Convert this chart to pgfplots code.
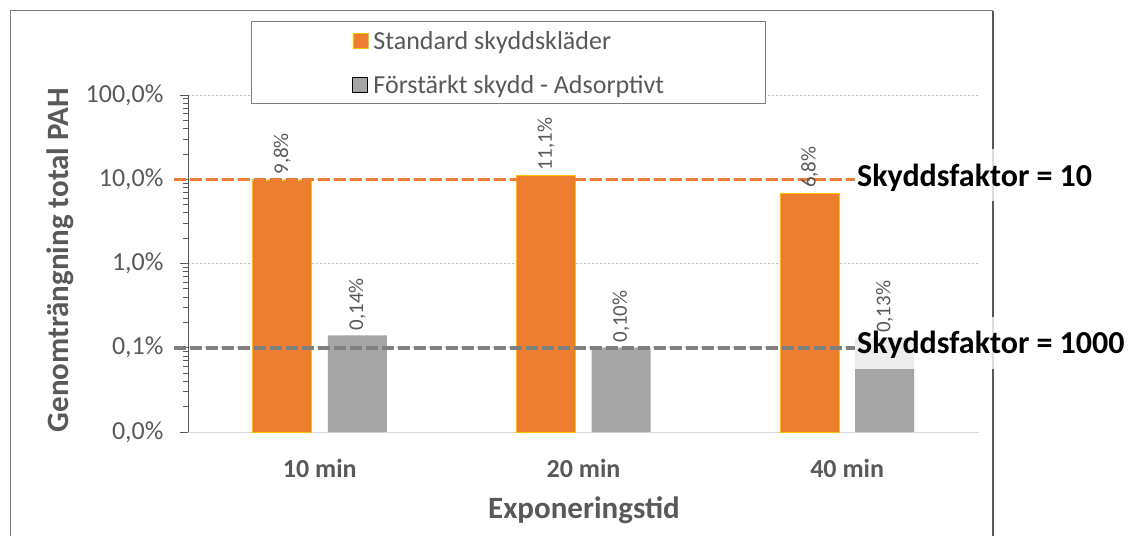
\documentclass[border=0pt]{standalone}
\usepackage{pgfplots}
\pgfplotsset{compat=1.18}
\usepackage{fontspec}
\setmainfont{Carlito}
\definecolor{txt}{HTML}{595959}
\definecolor{orng}{HTML}{ED7D31}
\definecolor{orngedge}{HTML}{FFC000}
\definecolor{gbar}{HTML}{A5A5A5}
\definecolor{gline}{HTML}{7F7F7F}
\definecolor{gridc}{HTML}{BFBFBF}
\definecolor{xaxisc}{HTML}{D9D9D9}
\begin{document}
\begin{tikzpicture}
\path[use as bounding box] (0bp,0bp) rectangle (1136bp,-536bp);
\draw[color=gline, line width=1.2bp] (10.5bp,-536bp) -- (10.5bp,-10.5bp) -- (993bp,-10.5bp);
\draw[color=txt, line width=1.4bp] (993bp,-10.5bp) -- (993bp,-536bp);
\begin{axis}[
  at={(188bp,-432bp)}, anchor=south west,
  scale only axis, width=791bp, height=337bp,
  ymode=log, ymin=0.01, ymax=100, log origin=infty,
  xmin=-0.5, xmax=2.5,
  clip=false,
  ybar, bar width=59bp,
  axis x line*=bottom, axis y line*=left,
  x axis line style={draw=xaxisc, line width=1bp},
  y axis line style={draw=txt, line width=1bp},
  xtick={0,1,2}, xticklabels={10 min,20 min,40 min},
  xtick style={draw=none},
  xticklabel style={font=\fontsize{26bp}{30bp}\selectfont\bfseries, text=txt, anchor=center, yshift=-28bp},
  ytick={0.01,0.1,1,10,100},
  yticklabels={{0,0\%},{0,1\%},{1,0\%},{10,0\%},{100,0\%}},
  minor ytick={0.02,0.03,0.04,0.05,0.06,0.07,0.08,0.09,0.2,0.3,0.4,0.5,0.6,0.7,0.8,0.9,2,3,4,5,6,7,8,9,20,30,40,50,60,70,80,90},
  ytick pos=left,
  tick align=outside,
  major tick length=8bp, minor tick length=5bp,
  every tick/.style={txt, line width=0.8bp},
  yticklabel style={font=\fontsize{26bp}{30bp}\selectfont, text=txt, anchor=east, xshift=-13bp},
  ymajorgrids,
  major grid style={gridc, line width=0.8bp, dash pattern=on 2bp off 2bp},
  ylabel={Genomträngning total PAH},
  xlabel={Exponeringstid},
  every axis y label/.style={at={(axis description cs:-0.1618,0.5104)}, rotate=90, anchor=center, font=\fontsize{31bp}{35bp}\selectfont\bfseries, text=txt},
  every axis x label/.style={at={(axis description cs:0.5006,-0.2315)}, anchor=center, font=\fontsize{31bp}{35bp}\selectfont\bfseries, text=txt},
  legend style={at={(axis description cs:0.0796,1.2196)}, anchor=north west, draw=gline, line width=1bp, fill=white,
    inner xsep=101bp, inner ysep=7bp, row sep=20bp, column sep=5bp,
    font=\fontsize{26bp}{30bp}\selectfont, text=txt,
    nodes={inner sep=0bp, text height=21bp, text depth=3bp}},
  legend cell align=left,
  legend image code/.code={\draw[#1] (0bp,-8bp) rectangle (15bp,7bp);},
  nodes near coords style={rotate=90, anchor=west, font=\fontsize{21bp}{24bp}\selectfont, text=txt, inner sep=5bp},
]
\addplot[fill=orng, draw=orngedge, line width=0.8bp, bar shift=-37.5bp,
  nodes near coords, point meta=explicit symbolic]
  coordinates {(0,9.8) [{9,8\%}] (1,11.1) [{11,1\%}] (2,6.8) [{6,8\%}]};
\addlegendentry{Standard skyddskläder}
\addplot[fill=gbar, draw=none, bar shift=37.5bp,
  nodes near coords, point meta=explicit symbolic]
  coordinates {(0,0.14) [{0,14\%}] (1,0.10) [{0,10\%}] (2,0.13) [{0,13\%}]};
\addlegendentry{Förstärkt skydd - Adsorptivt}
\addplot[sharp plot, orng, line width=3.5bp, dash pattern=on 12bp off 4bp, forget plot]
  coordinates {(-0.553,10) (2.0297,10)};
\addplot[sharp plot, gline, line width=3.5bp, dash pattern=on 12bp off 4bp, forget plot]
  coordinates {(-0.553,0.1) (2.0297,0.1)};
\node[anchor=base west, fill=white, fill opacity=0.8, text opacity=1, inner xsep=2bp, inner ysep=0bp,
  text height=37bp, text depth=15bp, font=\fontsize{32bp}{36bp}\selectfont\bfseries, yshift=-7bp]
  at (axis cs:2.0297,10) {Skyddsfaktor = 10};
\node[anchor=base west, fill=white, fill opacity=0.8, text opacity=1, inner xsep=2bp, inner ysep=0bp,
  text height=37bp, text depth=15bp, font=\fontsize{32bp}{36bp}\selectfont\bfseries, yshift=-6bp]
  at (axis cs:2.0297,0.1) {Skyddsfaktor = 1000};
\end{axis}
\end{tikzpicture}
\end{document}
